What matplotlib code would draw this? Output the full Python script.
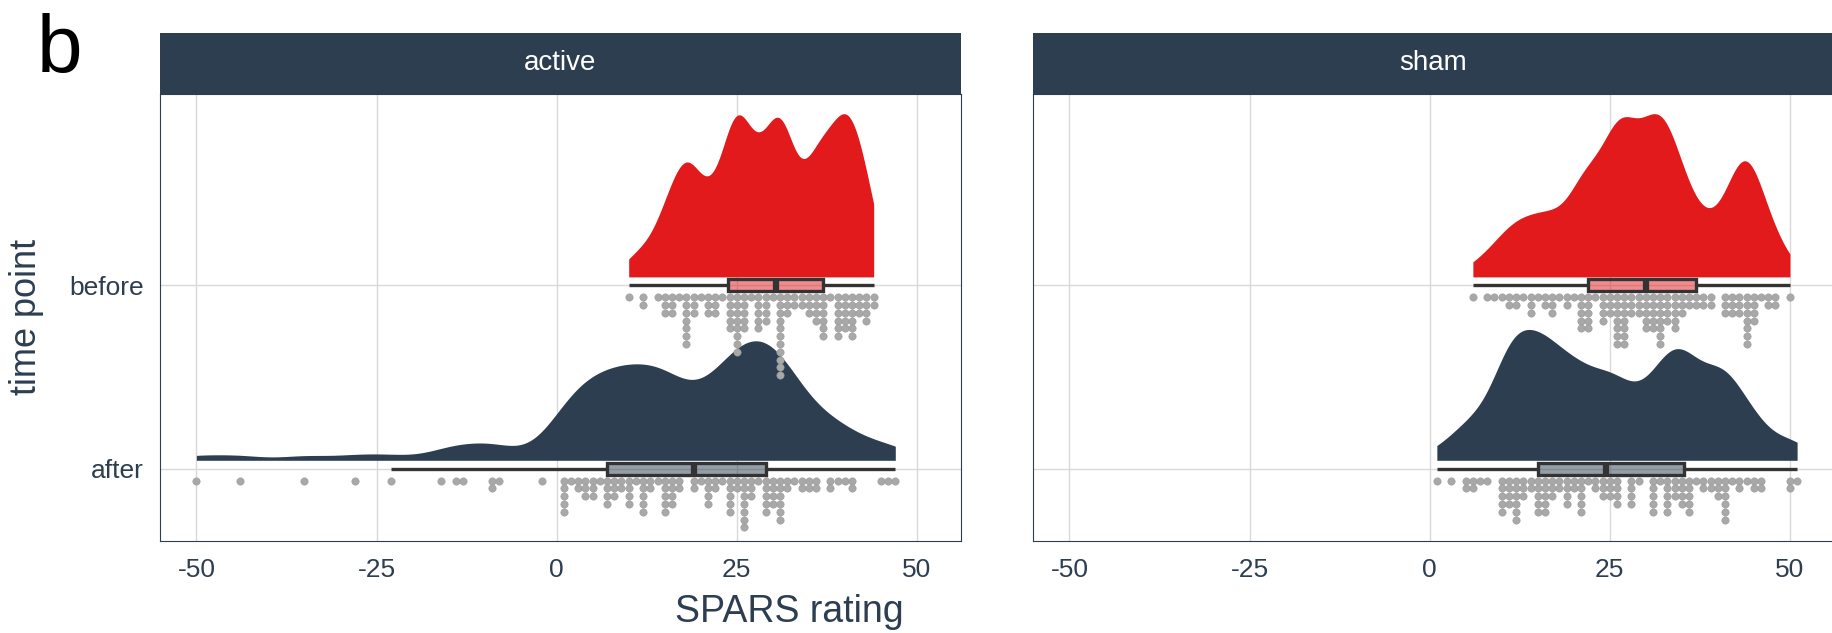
import numpy as np
import matplotlib.pyplot as plt
from matplotlib.patches import Rectangle

plt.rcParams['font.family'] = ['Liberation Sans', 'DejaVu Sans']

NAVY = '#2C3E50'
RED = '#E31A1C'
BOX_EDGE = '#333333'
DOT_COLOR = '#A8A8A8'

facets = ['active', 'sham']
time_points = ['before', 'after']
x_ticks = [-50, -25, 0, 25, 50]

# dot counts (value -> number of subjects)
active_before_vals = [10, 12, 14, 15, 16, 17, 18, 19, 20, 21, 22, 23, 24, 25, 26, 27, 28,
                      29, 30, 31, 32, 33, 34, 35, 36, 37, 38, 39, 40, 41, 42, 43, 44]
active_before_counts = [1, 2, 1, 3, 3, 1, 7, 3, 1, 3, 3, 1, 5, 8, 5, 1, 5,
                        4, 1, 11, 3, 2, 2, 3, 4, 6, 1, 6, 5, 6, 3, 4, 2]

active_after_vals = [-50, -44, -35, -28, -23, -16, -14, -13, -9, -8, -2,
                     1, 2, 3, 4, 5, 6, 7, 8, 9, 10, 11, 12, 13, 14, 15, 16, 17, 19, 20,
                     21, 22, 23, 24, 25, 26, 27, 28, 29, 30, 31, 32, 33, 34, 35, 36,
                     38, 39, 40, 41, 45, 46, 47]
active_after_counts = [1, 1, 1, 1, 1, 1, 1, 1, 2, 1, 1,
                       5, 1, 2, 3, 3, 1, 4, 3, 2, 4, 1, 5, 2, 1, 5, 4, 2, 2, 1,
                       4, 2, 1, 5, 2, 7, 3, 1, 5, 4, 6, 2, 1, 2, 2, 2,
                       2, 1, 1, 2, 1, 1, 1]

sham_before_vals = [6, 8, 9, 10, 11, 12, 13, 14, 15, 16, 17, 18, 19, 20, 21, 22, 23, 24,
                    25, 26, 27, 28, 29, 30, 31, 32, 33, 34, 35, 36, 37, 38, 39, 41, 42,
                    43, 44, 45, 46, 47, 48, 50]
sham_before_counts = [1, 1, 1, 1, 2, 2, 1, 3, 1, 2, 3, 1, 2, 1, 5, 5, 1, 4,
                      3, 7, 7, 3, 3, 5, 5, 7, 4, 5, 3, 2, 2, 2, 2, 3, 3,
                      3, 7, 4, 1, 2, 2, 1]

sham_after_vals = [1, 3, 5, 6, 7, 8, 10, 11, 12, 13, 14, 15, 16, 17, 18, 19, 20, 21, 22,
                   23, 24, 25, 26, 28, 29, 31, 32, 33, 34, 35, 36, 37, 38, 39, 40, 41,
                   42, 43, 44, 45, 46, 50, 51]
sham_after_counts = [1, 1, 2, 2, 1, 1, 5, 4, 6, 3, 2, 5, 5, 3, 2, 4, 2, 5, 1,
                     2, 3, 3, 4, 4, 1, 5, 1, 5, 3, 4, 5, 1, 2, 2, 3, 6,
                     1, 2, 1, 2, 2, 2, 1]

data = {
    ('active', 'before'): (active_before_vals, active_before_counts),
    ('active', 'after'): (active_after_vals, active_after_counts),
    ('sham', 'before'): (sham_before_vals, sham_before_counts),
    ('sham', 'after'): (sham_after_vals, sham_after_counts),
}
colors = {'before': RED, 'after': NAVY}
ypos = {'before': 2, 'after': 1}

# geometry (in y category units)
VIOLIN_H = 0.89
VIOLIN_OFF = 0.045
BOX_H = 0.066
DOT_OFF = 0.066
DOT_STEP = 0.0425
BW_ADJUST = 0.6


def nrd0(x):
    sd = np.std(x, ddof=1)
    q75, q25 = np.percentile(x, [75, 25])
    return 0.9 * min(sd, (q75 - q25) / 1.34) * len(x) ** -0.2


def kde(x, grid, bw):
    z = (grid[:, None] - x[None, :]) / bw
    return np.exp(-0.5 * z ** 2).sum(axis=1) / (len(x) * bw * np.sqrt(2 * np.pi))


W, H = 1832, 633
fig = plt.figure(figsize=(W / 100, H / 100), dpi=100)


def box(x0, y0, x1, y1):
    return [x0 / W, 1 - y1 / H, (x1 - x0) / W, (y1 - y0) / H]


panel_left = {'active': 160, 'sham': 1033}
PANEL_W = 800.5
TOP, BOTTOM, STRIP_TOP = 93.5, 541, 32.7

for facet in facets:
    x0 = panel_left[facet]
    ax = fig.add_axes(box(x0, TOP, x0 + PANEL_W, BOTTOM))
    sax = fig.add_axes(box(x0, STRIP_TOP, x0 + PANEL_W, TOP))
    sax.set_facecolor(NAVY)
    sax.set_xticks([])
    sax.set_yticks([])
    for s in sax.spines.values():
        s.set_visible(False)
    sax.text(0.5, 0.5, facet, color='white', fontsize=20, ha='center', va='center',
             transform=sax.transAxes)

    # densities, scaled per panel
    dens = {}
    for tp in time_points:
        vals = np.repeat(*data[(facet, tp)]).astype(float)
        grid = np.linspace(vals.min(), vals.max(), 512)
        dens[tp] = (vals, grid, kde(vals, grid, nrd0(vals) * BW_ADJUST))
    dmax = max(d[2].max() for d in dens.values())

    for tp in time_points:
        vals, grid, d = dens[tp]
        y = ypos[tp]
        ax.fill_between(grid, y + VIOLIN_OFF, y + VIOLIN_OFF + d / dmax * VIOLIN_H,
                        color=colors[tp], lw=0, zorder=2)

    for tp in time_points:
        v_list, c_list = data[(facet, tp)]
        y = ypos[tp]
        xs, ys = [], []
        for v, c in zip(v_list, c_list):
            for k in range(c):
                xs.append(v)
                ys.append(y - DOT_OFF - k * DOT_STEP)
        ax.scatter(xs, ys, s=28, color=DOT_COLOR, edgecolors='#9A9A9A', linewidths=0.4,
                   zorder=3)

    for tp in time_points:
        vals = dens[tp][0]
        y = ypos[tp]
        q1, med, q3 = np.percentile(vals, [25, 50, 75])
        iqr = q3 - q1
        lo = vals[vals >= q1 - 1.5 * iqr].min()
        hi = vals[vals <= q3 + 1.5 * iqr].max()
        ax.plot([lo, q1], [y, y], color=BOX_EDGE, lw=2.4, zorder=4, solid_capstyle='butt')
        ax.plot([q3, hi], [y, y], color=BOX_EDGE, lw=2.4, zorder=4, solid_capstyle='butt')
        ax.add_patch(Rectangle((q1, y - BOX_H / 2), q3 - q1, BOX_H, facecolor=colors[tp],
                               alpha=0.5, lw=0, zorder=4))
        ax.add_patch(Rectangle((q1, y - BOX_H / 2), q3 - q1, BOX_H, facecolor='none',
                               edgecolor=BOX_EDGE, lw=2.4, zorder=5))
        ax.plot([med, med], [y - BOX_H / 2, y + BOX_H / 2], color=BOX_EDGE, lw=4.5,
                zorder=5, solid_capstyle='butt')

    ax.set_xlim(-55.05, 56.05)
    ax.set_ylim(0.605, 3.045)
    ax.set_xticks(x_ticks)
    ax.set_xticklabels([str(t) for t in x_ticks])
    ax.set_yticks([ypos[tp] for tp in time_points])
    if facet == 'active':
        ax.set_yticklabels(time_points)
    else:
        ax.set_yticklabels([])
    ax.tick_params(length=0, labelsize=19, labelcolor=NAVY)
    ax.tick_params(axis='x', pad=12)
    ax.tick_params(axis='y', pad=11.5)
    ax.grid(True, color='#D9D9D9', lw=1.0)
    ax.set_axisbelow(True)
    for s in ax.spines.values():
        s.set_color(NAVY)
        s.set_linewidth(0.8)

fig.text(37 / W, 1 - 72 / H, 'b', fontsize=59, ha='left', va='baseline', color='black')
fig.text(26 / W, 1 - 317 / H, 'time point', fontsize=26, rotation=90,
         ha='center', va='center', color=NAVY)
fig.text(789 / W, 1 - 612 / H, 'SPARS rating', fontsize=27, ha='center', va='center',
         color=NAVY)

fig.savefig('out.png', dpi=100)
